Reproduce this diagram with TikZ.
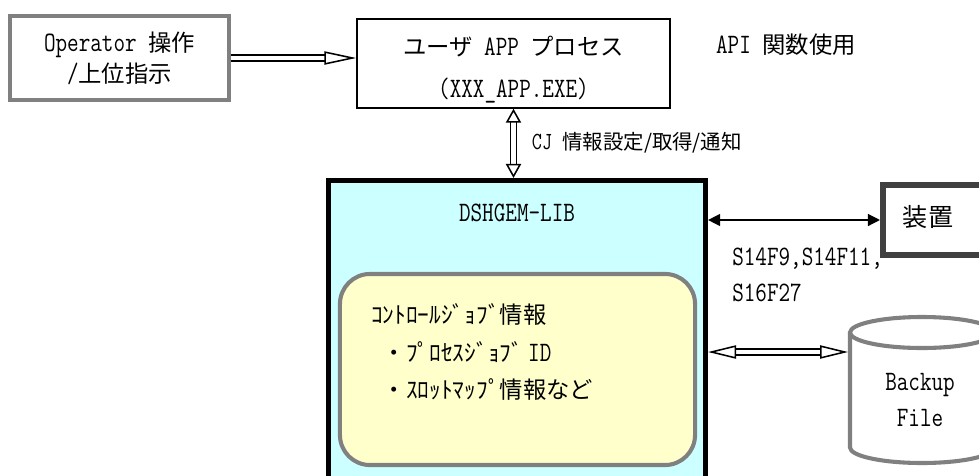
\documentclass[tikz,border=0pt]{standalone}
\usepackage{fontspec}
\setmonofont{Latin Modern Mono}[FakeStretch=0.8]
\newfontfamily\jpfont{Noto Sans CJK JP}[Scale=0.83]
\usetikzlibrary{arrows.meta}
\definecolor{edgegray}{HTML}{808080}
\definecolor{devgray}{HTML}{404040}
\definecolor{libcyan}{HTML}{CCFFFF}
\definecolor{infoyellow}{HTML}{FFFFCC}

\begin{document}
\begin{tikzpicture}[x=0.025cm,y=-0.025cm,font=\ttfamily\fontsize{20}{22}\selectfont,>=Triangle,
box/.style={draw,fill=white,inner sep=0pt},
hollow/.style={double,double distance=0.11cm,line width=1.1pt}]
\useasboundingbox (0,0) rectangle (979,475);
\clip (0,0) rectangle (979,475);
\node[box,draw=edgegray,line width=2.9pt,minimum width=5.475cm,minimum height=2.1cm,align=center] (op) at (119.5,58) {Operator {\jpfont 操作}\\{/\jpfont 上位指示}};
\node[box,line width=1pt,minimum width=7.825cm,minimum height=2.225cm] (app) at (513.5,63.5) {};
\node[align=center,font=\ttfamily\fontsize{20}{30}\selectfont] (appname) at (513.5,70) {{\jpfont ユーザ} APP {\jpfont プロセス}\\(XXX\_APP.EXE)};
\node (api) at (786,45) {API {\jpfont 関数使用}};
\node[box,draw,line width=3.6pt,fill=libcyan,minimum width=9.425cm,minimum height=8cm] (lib) at (517,340.5) {};
\node (libname) at (517,213) {DSHGEM-LIB};
\node[box,draw=edgegray,line width=2.9pt,fill=infoyellow,rounded corners=0.75cm,minimum width=8.875cm,minimum height=4.775cm] (info) at (517.5,369.5) {};
\node[anchor=west,align=left,inner sep=0pt,font=\jpfont\fontsize{20}{27}\selectfont] (infotext) at (371,352) {ｺﾝﾄﾛｰﾙｼﾞｮﾌﾞ情報\\\hspace*{.5em}・ﾌﾟﾛｾｽｼﾞｮﾌﾞ {\ttfamily ID}\\\hspace*{.5em}・ｽﾛｯﾄﾏｯﾌﾟ情報など};
\node[box,draw=devgray,line width=4.3pt,minimum width=2.925cm,minimum height=1.75cm] (dev) at (941.5,220) {};
\node[font=\jpfont\fontsize{21.5}{24}\selectfont] (devname) at (928,217) {装置};
\node[anchor=west,align=left,inner sep=0pt,font=\ttfamily\fontsize{20}{25.6}\selectfont] (msg) at (732,275) {S14F9,S14F11,\\S16F27};
\node[anchor=west,font=\ttfamily\fontsize{17.5}{20}\selectfont] (cj) at (527,143) {CJ {\jpfont 情報設定/取得/通知}};
\draw[edgegray,line width=2.9pt,fill=white] (850,332.5) -- (850,447.5) arc[start angle=180,end angle=0,x radius=72,y radius=15.5] -- (994,332.5);
\draw[edgegray,line width=2.9pt,fill=white] (922,332.5) ellipse[x radius=72,y radius=15.5];
\node[align=center,font=\ttfamily\fontsize{20}{25.6}\selectfont] (bk) at (920,400) {Backup\\File};
\coordinate (bkin) at (848,352);
\draw[hollow,-{Triangle[open,fill=white,length=0.8cm,width=0.33cm]}] (op.east) -- (op.east -| app.west);
\draw[hollow,{Triangle[open,fill=white,length=0.35cm,width=0.38cm]}-{Triangle[open,fill=white,length=0.35cm,width=0.38cm]}] (app.south) -- (app.south |- lib.north);
\draw[hollow,{Triangle[open,fill=white,length=0.7cm,width=0.33cm]}-{Triangle[open,fill=white,length=0.7cm,width=0.33cm]}] (lib.east |- bkin) -- (bkin);
\draw[<->,line width=0.9pt,>={Triangle[length=0.3cm,width=0.3cm]}] (lib.east |- dev.west) -- (dev.west);
\end{tikzpicture}
\end{document}
